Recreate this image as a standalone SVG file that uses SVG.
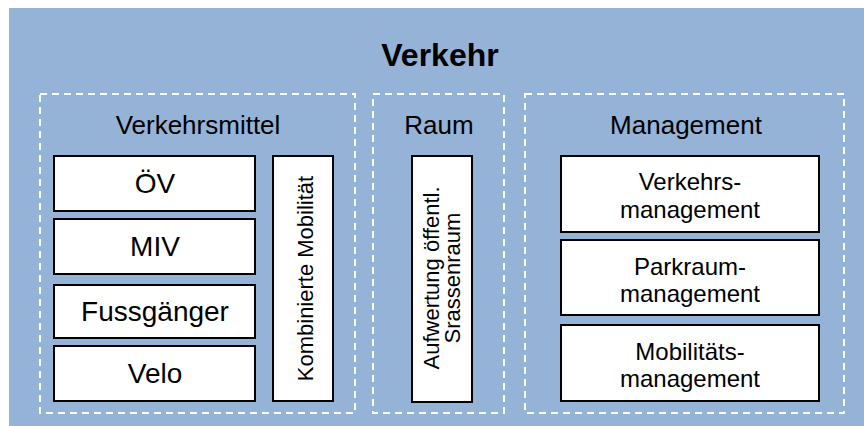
<svg xmlns="http://www.w3.org/2000/svg" width="864" height="426" viewBox="0 0 864 426">
<style>
text{font-family:"Liberation Sans",Arial,sans-serif;fill:#000;text-anchor:middle}
.grp{fill:none;stroke:#fff;stroke-width:2;stroke-dasharray:7 5}
.box{fill:#fff;stroke:#000;stroke-width:2}
.ttl{font-size:26px}
.big{font-size:28px}
.mid{font-size:24px}
.vert{font-size:22px}
</style>
<rect x="0" y="0" width="864" height="426" fill="#fff"/>
<rect x="9" y="8" width="855" height="418" fill="#95B3D7"/>
<g id="title"><text x="440" y="66" style="font-size:32px;font-weight:bold">Verkehr</text></g>
<g id="verkehrsmittel">
<rect class="grp" x="40" y="94" width="315" height="319"/>
<text class="ttl" x="198" y="134">Verkehrsmittel</text>
</g>
<g id="oev"><rect class="box" x="54" y="156" width="201" height="55"/><text class="big" x="155" y="193">ÖV</text></g>
<g id="miv"><rect class="box" x="54" y="219" width="201" height="55"/><text class="big" x="155" y="256">MIV</text></g>
<g id="fussgaenger"><rect class="box" x="54" y="285" width="201" height="53"/><text class="big" x="155" y="321">Fussgänger</text></g>
<g id="velo"><rect class="box" x="54" y="346" width="201" height="55"/><text class="big" x="155" y="383">Velo</text></g>
<g id="kombiniert"><rect class="box" x="273" y="156" width="60" height="245"/><text class="vert" transform="translate(313,278.5) rotate(-90)">Kombinierte Mobilität</text></g>
<g id="raum">
<rect class="grp" x="373" y="94" width="131" height="319"/>
<text class="ttl" x="439" y="134">Raum</text>
</g>
<g id="aufwertung"><rect class="box" x="412" y="156" width="60" height="246"/><text class="vert" transform="translate(439,278) rotate(-90)">Aufwertung öffentl.</text><text class="vert" transform="translate(460,278) rotate(-90)">Srassenraum</text></g>
<g id="management">
<rect class="grp" x="525" y="94" width="319" height="319"/>
<text class="ttl" x="686" y="134">Management</text>
</g>
<g id="verkehrsmanagement"><rect class="box" x="561" y="156" width="258" height="76"/><text class="mid" x="690" y="190">Verkehrs-</text><text class="mid" x="690" y="218">management</text></g>
<g id="parkraummanagement"><rect class="box" x="561" y="240" width="258" height="75"/><text class="mid" x="690" y="275">Parkraum-</text><text class="mid" x="690" y="302">management</text></g>
<g id="mobilitaetsmanagement"><rect class="box" x="561" y="325" width="258" height="76"/><text class="mid" x="690" y="360">Mobilitäts-</text><text class="mid" x="690" y="387">management</text></g>
<g id="connectors"/>
</svg>
